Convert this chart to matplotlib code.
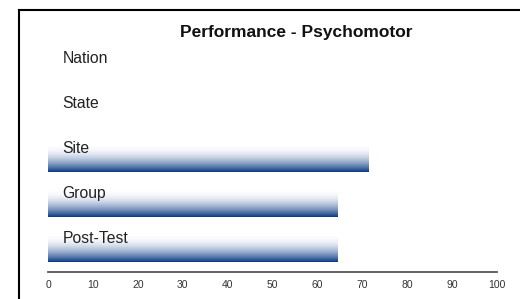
import numpy as np
import matplotlib.pyplot as plt
from matplotlib.lines import Line2D

categories = ["Post-Test", "Group", "Site", "State", "Nation"]
values = [64.4, 64.4, 71.3, 0, 0]
xticks = [0, 10, 20, 30, 40, 50, 60, 70, 80, 90, 100]

plt.rcParams["font.family"] = ["Liberation Sans", "DejaVu Sans"]

fig = plt.figure(figsize=(5.2, 2.99), dpi=100)
ax = fig.add_axes([48 / 520, 27.5 / 299, 449 / 520, 225 / 299])

# vertical gradient, light on top, navy at the bottom
top = np.array([0.99, 0.99, 1.0])
bot = np.array([0.04, 0.23, 0.52])
t = np.linspace(0, 1, 64) ** 1.8
grad = (top[None, :] * (1 - t[:, None]) + bot[None, :] * t[:, None])[:, None, :]

h = 0.56
for i, (cat, v) in enumerate(zip(categories, values)):
    if v > 0:
        ax.imshow(grad, extent=[0, v, i - h / 2, i + h / 2], origin="upper",
                  aspect="auto", interpolation="bilinear", zorder=1)
    ax.text(3.2, i + 0.24, cat, fontsize=11.3, color="#222222", va="center", ha="left", zorder=3)

ax.set_xlim(0, 100)
ax.set_ylim(-0.5, len(categories) - 0.5)
ax.set_xticks(xticks)
ax.tick_params(axis="x", length=0, labelsize=7.5, labelcolor="#333333", pad=6)
ax.set_yticks([])
for s in ["top", "right", "left"]:
    ax.spines[s].set_visible(False)
ax.spines["bottom"].set_color("#555555")
ax.spines["bottom"].set_linewidth(1.3)

fig.text(296 / 520, 1 - 32 / 299, "Performance - Psychomotor", fontsize=12.5,
         fontweight="bold", ha="center", va="center", color="#111111")

# frame on left and top
fig.add_artist(Line2D([18.5 / 520, 18.5 / 520], [0, 1 - 9.5 / 299], color="black", lw=1.5,
                      solid_capstyle="projecting"))
fig.add_artist(Line2D([18.5 / 520, 1], [1 - 9.5 / 299, 1 - 9.5 / 299], color="black", lw=1.5,
                      solid_capstyle="projecting"))

fig.savefig("out.png", dpi=100)
